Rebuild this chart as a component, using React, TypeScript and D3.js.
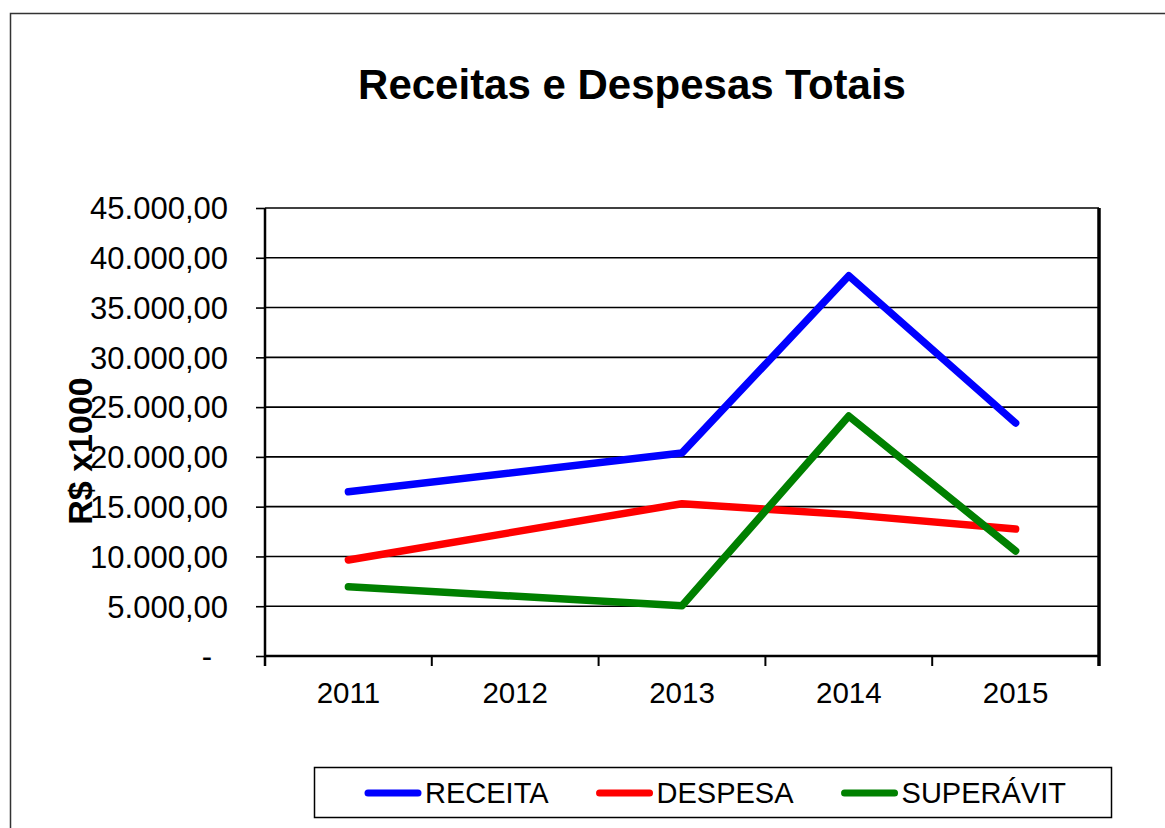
import React, { useRef, useEffect } from 'react';
import * as d3 from 'd3';

// values in R$ x1000; 2012 has no value (the lines skip it)
const years = ['2011', '2012', '2013', '2014', '2015'];
const receita = [16500, null, 20400, 38200, 23400];
const despesa = [9650, null, 15300, 14200, 12750];
const superavit = [6950, null, 5050, 24100, 10550];
const yTicks = [0, 5000, 10000, 15000, 20000, 25000, 30000, 35000, 40000, 45000];

const seriesNames = ['RECEITA', 'DESPESA', 'SUPERÁVIT'];
const seriesColors = ['#0000ff', '#ff0000', '#008000'];

const FONT = '"Liberation Sans", Arial, Helvetica, sans-serif';

const App = () => {
  const chartRef = useRef(null);

  useEffect(() => {
    if (!chartRef.current) return;
    d3.select(chartRef.current).html('');

    const W = 1165;
    const H = 828;
    const plot = { left: 265, right: 1099, top: 208, bottom: 656 };

    const svg = d3
      .select(chartRef.current)
      .append('svg')
      .attr('width', W)
      .attr('height', H)
      .style('position', 'absolute')
      .style('left', '0px')
      .style('top', '0px')
      .style('font-family', FONT)
      .style('background', '#fff');

    // outer chart border (runs off the picture at right and bottom)
    svg
      .append('rect')
      .attr('x', 10.5)
      .attr('y', 13.5)
      .attr('width', 1300)
      .attr('height', 1000)
      .attr('fill', '#fff')
      .attr('stroke', '#333')
      .attr('stroke-width', 1.5);

    // title
    svg
      .append('text')
      .attr('x', 632)
      .attr('y', 99)
      .attr('text-anchor', 'middle')
      .attr('font-size', 42)
      .attr('font-weight', 'bold')
      .text('Receitas e Despesas Totais');

    const x = d3.scaleBand().domain(years).range([plot.left, plot.right]).padding(0);
    const y = d3.scaleLinear().domain([0, 45000]).range([plot.bottom, plot.top]);

    const locale = d3.formatLocale({ decimal: ',', thousands: '.', grouping: [3], currency: ['R$', ''] });
    const fmt = locale.format(',.2f');

    // gridlines
    svg
      .append('g')
      .selectAll('line')
      .data(yTicks.filter(d => d > 0))
      .join('line')
      .attr('x1', plot.left)
      .attr('x2', plot.right)
      .attr('y1', d => y(d))
      .attr('y2', d => y(d))
      .attr('stroke', '#000')
      .attr('stroke-width', 1.6);

    // y axis
    const yAxis = d3
      .axisLeft(y)
      .tickValues(yTicks)
      .tickSize(9)
      .tickPadding(28)
      .tickFormat(d => (d === 0 ? '-' : fmt(d)));
    const gy = svg.append('g').attr('transform', `translate(${plot.left},0)`).call(yAxis);
    gy.select('.domain').remove();
    gy.append('line')
      .attr('x1', 0)
      .attr('x2', 0)
      .attr('y1', plot.top)
      .attr('y2', plot.bottom + 10)
      .attr('stroke', '#000')
      .attr('stroke-width', 2.5);
    gy.selectAll('.tick line').attr('stroke', '#000').attr('stroke-width', 1.6);
    gy.selectAll('.tick text')
      .attr('font-size', 31)
      .attr('font-family', FONT)
      .attr('fill', '#000')
      .attr('dy', '0.35em')
      .attr('x', d => (d === 0 ? -53 : -37));

    // x axis with ticks on the band edges
    const gx = svg.append('g').attr('transform', `translate(0,${plot.bottom})`);
    gx.append('line')
      .attr('x1', plot.left)
      .attr('x2', plot.right)
      .attr('stroke', '#000')
      .attr('stroke-width', 2.5);
    const edges = years.map(d => x(d)).concat([plot.right]);
    gx.selectAll('line.edge')
      .data(edges)
      .join('line')
      .attr('class', 'edge')
      .attr('x1', d => d)
      .attr('x2', d => d)
      .attr('y1', 0)
      .attr('y2', 10)
      .attr('stroke', '#000')
      .attr('stroke-width', 2);
    gx.selectAll('text')
      .data(years)
      .join('text')
      .attr('x', d => x(d) + x.bandwidth() / 2)
      .attr('y', 47)
      .attr('text-anchor', 'middle')
      .attr('font-size', 29.5)
      .text(d => d);

    // right edge of the plot area
    svg
      .append('line')
      .attr('x1', plot.right)
      .attr('x2', plot.right)
      .attr('y1', plot.top)
      .attr('y2', plot.bottom + 10)
      .attr('stroke', '#000')
      .attr('stroke-width', 3.5);

    // y axis title
    svg
      .append('text')
      .attr('transform', 'translate(92,451) rotate(-90)')
      .attr('text-anchor', 'middle')
      .attr('font-size', 34)
      .attr('font-weight', 'bold')
      .text('R$ x1000');

    // lines
    const line = d3
      .line()
      .x(d => x(d.year) + x.bandwidth() / 2)
      .y(d => y(d.value));

    [receita, despesa, superavit].forEach((vals, i) => {
      const pts = years
        .map((year, j) => ({ year, value: vals[j] }))
        .filter(d => d.value != null);
      svg
        .append('path')
        .datum(pts)
        .attr('d', line)
        .attr('fill', 'none')
        .attr('stroke', seriesColors[i])
        .attr('stroke-width', 7.5)
        .attr('stroke-linejoin', 'round')
        .attr('stroke-linecap', 'round');
    });

    // legend
    const legend = svg.append('g');
    legend
      .append('rect')
      .attr('x', 314.5)
      .attr('y', 767.5)
      .attr('width', 797)
      .attr('height', 50)
      .attr('fill', '#fff')
      .attr('stroke', '#000')
      .attr('stroke-width', 1.5);
    let lx = 368;
    seriesNames.forEach((name, i) => {
      legend
        .append('line')
        .attr('x1', lx)
        .attr('x2', lx + 50)
        .attr('y1', 793)
        .attr('y2', 793)
        .attr('stroke', seriesColors[i])
        .attr('stroke-width', 7)
        .attr('stroke-linecap', 'round');
      const t = legend
        .append('text')
        .attr('x', lx + 57)
        .attr('y', 803)
        .attr('font-size', 29)
        .text(name);
      const w = t.node().getComputedTextLength();
      lx = lx + 57 + w + 51;
    });
  }, []);

  return <div ref={chartRef} />;
};

export default App;
